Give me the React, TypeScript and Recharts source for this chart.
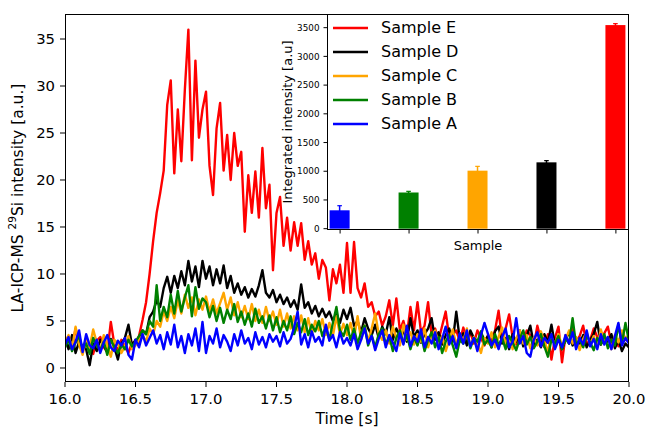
import React from 'react';
import { LineChart, Line, XAxis, YAxis, BarChart, Bar } from 'recharts';

const FONT = '"DejaVu Sans", Verdana, sans-serif';

// time trace, one value every 25 ms from 16.0 s
const T_START = 16;
const T_STEP = 0.025;

const SAMPLE_E = [
  2.8, 3.4, 2.1, 4.2, 2.6, 1.8, 3.1, 2.4, 1.5, 2.9, 3.3, 2.2, 1.7, 4.9, 2.5, 1.9, 3.0, 2.3, 1.6, 2.7,
  2.6, 3.4, 5.1, 7.0, 10.0, 13.5, 16.5, 18.6, 21.0, 28.0, 30.6, 20.7, 27.5, 22.0, 29.6, 36.0, 22.1, 32.7, 24.5, 27.5,
  29.4, 21.5, 18.4, 25.5, 28.2, 21.0, 24.8, 20.0, 25.0, 21.5, 23.0, 14.5, 20.5, 16.5, 20.9, 16.0, 23.4, 17.0, 19.5, 10.4,
  16.5, 18.2, 13.0, 16.0, 12.5, 15.5, 13.0, 15.4, 11.5, 13.5, 11.0, 12.2, 9.5, 11.5, 10.7, 7.2, 10.5, 9.0, 11.0, 8.0,
  13.3, 8.0, 13.4, 8.5, 7.5, 9.0, 6.5, 7.0, 5.5, 6.0, 4.5, 5.5, 7.2, 4.5, 7.4, 4.0, 5.0, 3.5, 6.5, 4.0,
  7.0, 3.8, 4.5, 7.0, 3.5, 4.2, 3.0, 4.5, 6.0, 3.2, 3.5, 4.0, 2.8, 4.3, 3.0, 3.8, 2.6, 4.0, 3.2, 2.4,
  3.5, 2.8, 4.0, 6.1, 3.0, 4.2, 5.7, 3.2, 2.5, 3.8, 2.8, 4.0, 3.5, 2.4, 4.5, 3.0, 2.2, 3.6, 0.9, 3.2,
  4.4, 0.6, 3.5, 2.6, 4.2, 2.8, 3.4, 4.5, 2.5, 3.0, 4.2, 3.3, 2.5, 3.7, 4.4, 2.6, 3.2, 2.3, 3.8, 3.0,
  2.8,
];

const SAMPLE_D = [
  3.2, 2.0, 3.5, 1.6, 2.8, 2.3, 2.0, 0.3, 2.6, 1.8, 3.0, 2.4, 1.7, 3.1, 2.2, 0.9, 2.6, 3.2, 4.6, 2.4,
  3.0, 2.5, 4.0, 3.6, 5.4, 6.0, 7.2, 6.5, 8.5, 9.7, 8.0, 9.8, 8.5, 10.3, 8.8, 11.4, 9.2, 10.8, 8.6, 11.4,
  9.5, 10.8, 8.8, 10.5, 9.0, 10.9, 8.5, 9.8, 8.0, 9.0, 7.8, 8.6, 7.5, 8.4, 7.6, 8.8, 10.4, 8.0, 7.5, 8.3,
  7.0, 7.8, 6.8, 7.5, 6.5, 7.2, 6.2, 8.9, 6.4, 7.0, 5.8, 6.6, 5.5, 6.3, 5.4, 6.0, 5.0, 5.8, 4.8, 6.2,
  5.2, 6.4, 4.5, 5.0, 3.8, 5.3, 4.2, 3.5, 4.6, 3.2, 4.4, 3.6, 5.4, 3.0, 4.2, 3.4, 4.0, 2.8, 5.3, 3.3,
  4.0, 2.7, 3.6, 4.2, 5.3, 3.0, 3.8, 2.5, 3.5, 4.2, 2.8, 6.0, 3.0, 3.7, 2.4, 4.0, 3.2, 2.6, 3.8, 2.9,
  3.4, 2.2, 3.9, 4.4, 2.6, 3.2, 2.0, 3.6, 2.8, 4.0, 2.3, 3.4, 4.5, 2.5, 3.0, 2.2, 3.6, 2.7, 4.6, 2.4,
  3.3, 2.0, 3.0, 3.8, 2.4, 3.1, 2.6, 3.5, 2.2, 3.0, 3.6, 4.9, 2.5, 3.2, 2.8, 3.6, 2.1, 3.0, 1.8, 2.6,
  2.2,
];

const SAMPLE_C = [
  2.6, 3.5, 2.0, 4.4, 2.5, 1.4, 3.2, 2.2, 4.1, 2.7, 1.8, 3.5, 2.4, 1.2, 3.0, 2.6, 1.6, 2.3, 3.4, 2.0,
  2.4, 3.0, 3.5, 2.8, 4.2, 3.6, 5.0, 4.4, 6.0, 5.0, 6.5, 5.3, 7.2, 5.8, 7.8, 6.4, 7.5, 5.6, 7.3, 6.2,
  7.6, 6.0, 7.3, 5.8, 6.9, 8.0, 6.2, 7.5, 5.6, 7.0, 5.4, 6.6, 5.2, 6.8, 5.0, 6.2, 4.8, 6.5, 5.0, 6.0,
  4.6, 6.2, 4.4, 5.8, 4.2, 5.5, 4.0, 5.6, 3.8, 5.3, 3.6, 5.0, 4.0, 5.2, 3.5, 4.8, 3.4, 5.5, 3.6, 4.7,
  3.5, 4.8, 3.2, 5.5, 3.0, 4.5, 2.8, 4.2, 5.8, 3.6, 3.0, 4.0, 2.6, 4.4, 3.2, 2.4, 4.6, 3.0, 3.8, 2.5,
  3.6, 2.8, 4.2, 2.2, 3.5, 4.0, 2.6, 3.4, 1.8, 3.0, 4.1, 2.5, 3.6, 2.9, 4.2, 2.3, 3.3, 2.7, 1.6, 3.2,
  2.6, 3.8, 2.2, 3.3, 4.3, 2.5, 3.4, 2.0, 3.1, 4.0, 2.6, 3.5, 2.1, 3.2, 2.4, 3.9, 2.8, 1.8, 3.3, 2.5,
  3.6, 2.3, 3.0, 4.0, 2.6, 3.3, 1.9, 3.1, 3.8, 2.5, 3.4, 2.2, 4.1, 2.8, 3.3, 2.0, 3.5, 2.7, 4.0, 3.1,
  3.5,
];

const SAMPLE_B = [
  2.2, 3.0, 1.8, 2.7, 3.4, 2.0, 2.6, 1.5, 3.2, 2.4, 1.9, 2.8, 1.4, 3.0, 2.2, 1.6, 2.5, 2.0, 3.0, 2.3,
  2.8, 3.4, 4.0, 3.6, 5.0, 4.4, 8.8, 5.0, 6.5, 5.4, 7.8, 5.8, 8.2, 6.0, 7.5, 8.8, 5.5, 8.6, 6.3, 7.4,
  7.0, 5.4, 6.6, 5.0, 6.4, 4.8, 6.2, 5.2, 6.8, 4.9, 6.0, 4.6, 5.8, 4.4, 6.3, 4.8, 5.5, 4.2, 5.6, 4.0,
  5.4, 3.8, 5.0, 4.0, 5.5, 3.6, 4.8, 3.8, 5.2, 3.5, 4.6, 3.9, 5.0, 3.4, 4.4, 3.0, 4.8, 6.5, 4.0, 3.4,
  4.6, 3.0, 4.2, 2.6, 3.8, 4.5, 2.4, 3.5, 2.2, 3.6, 4.2, 2.5, 3.4, 1.8, 3.2, 4.0, 2.6, 3.5, 2.0, 3.3,
  2.4, 3.6, 1.8, 3.0, 3.8, 2.2, 3.3, 1.6, 2.8, 3.5, 2.4, 1.2, 3.0, 2.6, 3.7, 2.1, 3.2, 2.8, 3.9, 2.5,
  3.0, 2.2, 3.6, 2.4, 3.2, 2.0, 3.4, 2.7, 1.9, 3.1, 4.0, 2.5, 3.3, 2.1, 2.8, 3.6, 2.3, 1.2, 3.0, 2.6,
  3.4, 2.0, 3.1, 2.6, 5.3, 2.4, 3.0, 2.2, 3.5, 2.7, 1.9, 3.2, 2.5, 3.6, 2.1, 3.0, 2.4, 4.6, 2.6, 4.8,
  2.8,
];

const SAMPLE_A = [
  2.5, 3.3, 2.0, 2.8, 4.0, 1.7, 3.6, 2.4, 2.1, 3.0, 1.6, 2.7, 3.5, 2.2, 1.8, 2.9, 2.4, 3.2, 1.4, 0.9,
  3.0, 2.2, 3.6, 2.4, 3.2, 4.0, 2.6, 3.5, 2.0, 3.8, 2.5, 4.6, 2.2, 3.4, 1.6, 3.6, 2.4, 4.2, 1.8, 4.9,
  1.6, 3.4, 2.6, 4.2, 2.2, 3.5, 2.8, 1.8, 3.6, 2.4, 4.0, 2.6, 3.2, 2.0, 3.8, 2.5, 3.3, 2.2, 3.6, 2.8,
  3.4, 2.3, 3.8, 2.6, 3.1, 4.3, 6.0, 2.5, 3.6, 2.2, 3.9, 2.8, 3.3, 2.4, 4.6, 2.9, 3.5, 2.2, 3.8, 2.6,
  3.2, 2.4, 3.6, 2.0, 3.0, 4.2, 2.6, 3.4, 1.9, 3.1, 4.0, 2.2, 3.5, 2.7, 1.8, 3.7, 2.5, 4.5, 2.3, 3.4,
  2.8, 4.1, 2.2, 3.3, 2.6, 3.8, 2.0, 3.1, 4.4, 2.5, 3.4, 2.1, 3.7, 2.6, 4.0, 2.3, 3.2, 1.8, 3.5, 4.8,
  3.6, 2.4, 3.0, 2.0, 3.3, 4.2, 2.2, 2.8, 5.3, 2.6, 3.4, 1.6, 1.2, 3.0, 3.8, 2.3, 3.2, 2.7, 3.6, 2.0,
  3.0, 2.2, 3.5, 2.6, 3.8, 2.0, 3.2, 2.5, 4.0, 2.3, 3.1, 2.0, 3.6, 2.5, 3.3, 2.0, 3.4, 4.8, 2.4, 3.2,
  2.6,
];

const TIME_TICKS = [16, 16.5, 17, 17.5, 18, 18.5, 19, 19.5, 20];
const INTENSITY_TICKS = [0, 5, 10, 15, 20, 25, 30, 35];

// legend order (top to bottom) = drawing order, Sample A ends up on top
const SERIES = [
  { key: 'E', name: 'Sample E', color: '#ff0000' },
  { key: 'D', name: 'Sample D', color: '#000000' },
  { key: 'C', name: 'Sample C', color: '#ffa500' },
  { key: 'B', name: 'Sample B', color: '#008000' },
  { key: 'A', name: 'Sample A', color: '#0000ff' },
];

// inset: integrated intensity per sample
const INSET_SAMPLES = ['A', 'B', 'C', 'D', 'E'];
const INTEGRATED = [320, 630, 1010, 1155, 3545];
const INTEGRATED_ERR = [80, 20, 75, 30, 25];
const INSET_COLORS = ['#0000ff', '#008000', '#ffa500', '#000000', '#ff0000'];
const INSET_TICKS = [0, 500, 1000, 1500, 2000, 2500, 3000, 3500];

const TIME = SAMPLE_E.map((_, i) => Math.round((T_START + i * T_STEP) * 1000) / 1000);
const traceData = TIME.map((t, i) => ({
  t,
  A: SAMPLE_A[i],
  B: SAMPLE_B[i],
  C: SAMPLE_C[i],
  D: SAMPLE_D[i],
  E: SAMPLE_E[i],
}));

const barData = INSET_SAMPLES.map((s, i) => ({
  x: i,
  sample: s,
  value: INTEGRATED[i],
  err: INTEGRATED_ERR[i],
}));

const IntensityLabel = ({ viewBox }: any) => {
  const x = viewBox.x + 18;
  const y = viewBox.y + viewBox.height / 2;
  return (
    <text x={x} y={y} transform={`rotate(-90 ${x} ${y})`} textAnchor="middle"
      dominantBaseline="central" fontSize={15.5} fill="#000">
      LA-ICP-MS <tspan fontSize={10.5} dy={-6}>29</tspan><tspan dy={6}>Si intensity [a.u.]</tspan>
    </text>
  );
};

const InsetYLabel = ({ viewBox }: any) => {
  const x = viewBox.x + 17;
  const y = viewBox.y + viewBox.height / 2;
  return (
    <text x={x} y={y} transform={`rotate(-90 ${x} ${y})`} textAnchor="middle"
      dominantBaseline="central" fontSize={13} fill="#000">
      Integrated intensity [a.u]
    </text>
  );
};

const SampleLabel = ({ viewBox }: any) => (
  <text x={viewBox.x + viewBox.width / 2} y={viewBox.y + 15} textAnchor="middle"
    dominantBaseline="central" fontSize={13} fill="#000">
    Sample
  </text>
);

// bar + matplotlib-style error bar, scaled off the bar's own height
const ErrBar = (props: any) => {
  const { x, y, width, height, index, payload } = props;
  const color = INSET_COLORS[index];
  const perUnit = height / payload.value;
  const e = payload.err * perUnit;
  const cx = x + width / 2;
  return (
    <g>
      <rect x={x} y={y} width={width} height={height} fill={color} />
      <line x1={cx} y1={y - e} x2={cx} y2={y + e} stroke={color} strokeWidth={1.5} />
      <line x1={cx - 2.3} y1={y - e} x2={cx + 2.3} y2={y - e} stroke={color} strokeWidth={1.2} />
    </g>
  );
};

export default function App() {
  return (
    <div style={{ position: 'absolute', left: 0, top: 0, width: 647, height: 429, background: '#fff', fontFamily: FONT }}>
      <LineChart width={647} height={429} data={traceData} margin={{ top: 14, right: 18, bottom: 0, left: 0 }}>
        <XAxis type="number" dataKey="t" domain={[16, 20]} ticks={TIME_TICKS} allowDataOverflow
          tickFormatter={(v: number) => v.toFixed(1)} axisLine={false}
          tickLine={{ stroke: '#000' }} tickSize={5} tickMargin={6}
          tick={{ fontSize: 14.8, fill: '#000' }} height={47}
          label={{ value: 'Time [s]', position: 'insideBottom', offset: 5, fontSize: 15.5, fill: '#000' }} />
        <YAxis type="number" domain={[-1.49, 37.66]} ticks={INTENSITY_TICKS} allowDataOverflow
          axisLine={false} tickLine={{ stroke: '#000' }} tickSize={5} tickMargin={5}
          tick={{ fontSize: 14.8, fill: '#000' }} width={65}
          label={{ content: IntensityLabel }} />
        {SERIES.map(s => (
          <Line key={s.key} type="linear" dataKey={s.key} name={s.name} stroke={s.color}
            strokeWidth={2.4} strokeLinejoin="round" dot={false} isAnimationActive={false} />
        ))}
      </LineChart>

      {/* main axes frame */}
      <div style={{ position: 'absolute', left: 65, top: 14, width: 564, height: 368, border: '1px solid #000', boxSizing: 'border-box', pointerEvents: 'none' }} />

      {/* inset background + frame */}
      <div style={{ position: 'absolute', left: 327, top: 14, width: 302, height: 216, background: '#fff', border: '1px solid #000', boxSizing: 'border-box' }} />

      <div style={{ position: 'absolute', left: 270, top: 14 }}>
        <BarChart width={359} height={245} data={barData} margin={{ top: 0, right: 0, bottom: 0, left: 0 }}>
          <XAxis type="number" dataKey="x" domain={[-0.19, 4.19]} ticks={[0, 1, 2, 3, 4]} allowDataOverflow
            tickFormatter={() => ''} axisLine={false} tickLine={{ stroke: '#000' }} tickSize={3.5}
            height={29} label={{ content: SampleLabel }} />
          <YAxis type="number" domain={[-23, 3738]} ticks={INSET_TICKS} allowDataOverflow
            axisLine={false} tickLine={{ stroke: '#000' }} tickSize={3.5} tickMargin={4}
            tick={{ fontSize: 8.8, fill: '#000' }} width={57}
            label={{ content: InsetYLabel }} />
          <Bar dataKey="value" barSize={20} shape={ErrBar} isAnimationActive={false} />
        </BarChart>
      </div>

      {/* legend */}
      <div style={{ position: 'absolute', left: 333, top: 16 }}>
        {SERIES.map(s => (
          <div key={s.key} style={{ display: 'flex', alignItems: 'center', height: 24 }}>
            <svg width={35} height={4}>
              <line x1={0} y1={2} x2={35} y2={2} stroke={s.color} strokeWidth={2.5} />
            </svg>
            <span style={{ marginLeft: 13, fontSize: 16, color: '#000', lineHeight: '24px' }}>{s.name}</span>
          </div>
        ))}
      </div>
    </div>
  );
}
